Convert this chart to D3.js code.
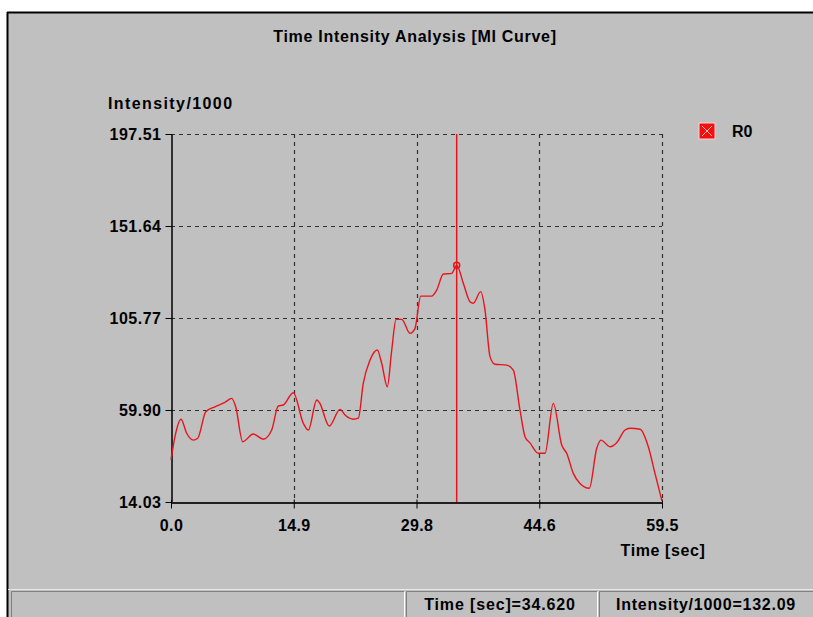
<!DOCTYPE html>
<html>
<head>
<meta charset="utf-8">
<script src="https://cdn.jsdelivr.net/npm/d3@7"></script>
<style>
  html, body { margin: 0; padding: 0; background: #ffffff; }
  svg { display: block; }
  text { font-family: "Liberation Sans", Arial, sans-serif; font-weight: bold; fill: #000; }
</style>
</head>
<body>
<svg id="chart" width="813" height="617"></svg>
<script>
// Sampled time-intensity curve for region R0
const timeSec = [0.00, 0.48, 1.21, 1.90, 2.70, 3.24, 4.21, 5.33, 6.54, 7.36, 7.84, 8.69, 9.97, 11.19,
  12.20, 13.00, 13.61, 14.82, 16.03, 16.64, 17.66, 18.00, 19.18, 20.48, 21.09, 22.09, 22.70, 23.30,
  24.12, 25.00, 25.53, 26.21, 26.75, 27.27, 27.96, 28.96, 29.57, 30.26, 31.59, 32.20, 33.00, 34.02,
  34.62, 35.42, 36.23, 36.63, 37.53, 38.05, 38.66, 39.26, 40.68, 41.48, 42.29, 42.90, 43.50, 44.51,
  45.32, 46.33, 47.35, 47.95, 48.75, 49.56, 50.69, 51.59, 52.11, 53.20, 54.01, 55.02, 55.62, 56.84,
  57.84, 58.65, 59.50];
const intensity = [35.0, 46.6, 55.3, 48.3, 44.9, 45.8, 59.0, 61.5, 63.7, 65.7, 61.5, 44.1, 47.9, 45.3,
  49.9, 61.9, 62.4, 68.5, 53.3, 49.9, 64.9, 63.5, 51.9, 60.2, 57.4, 55.3, 55.8, 73.2,
  84.8, 89.8, 83.2, 71.5, 89.8, 105.1, 105.1, 98.1, 100.6, 116.7, 116.7, 119.7, 127.7, 128.0,
  132.09, 123.1, 113.9, 113.1, 118.9, 109.8, 86.5, 82.7, 82.3, 79.8, 59.9, 46.6, 43.5, 38.3,
  38.3, 63.2, 42.4, 38.3, 28.3, 23.3, 20.9, 40.8, 44.9, 41.6, 43.6, 49.9, 50.8, 50.3,
  41.6, 28.3, 14.5];

// Axis ticks
const yTickValues = [14.03, 59.90, 105.77, 151.64, 197.51];
const xTickValues = [0, 14.875, 29.75, 44.625, 59.5];
const xTickLabels = ["0.0", "14.9", "29.8", "44.6", "59.5"];

// Cursor readout
const cursorTime = 34.62;
const cursorIntensity = 132.09;
const seriesName = "R0";

const svg = d3.select("#chart");
const W = 813, H = 617;
const plot = { left: 171, right: 662, top: 134, bottom: 502 };
const red = "#e8141c";
const FONT = "'Liberation Sans', Arial, sans-serif";

// Window panel with dark top/left edge
svg.append("rect").attr("x", 7).attr("y", 12).attr("width", W - 7).attr("height", H - 12).attr("fill", "#c0c0c0");
svg.append("line").attr("x1", 7).attr("x2", W).attr("y1", 12.5).attr("y2", 12.5).attr("stroke", "#000").attr("stroke-width", 2);
svg.append("line").attr("x1", 7.5).attr("x2", 7.5).attr("y1", 12).attr("y2", H).attr("stroke", "#000").attr("stroke-width", 2);

const x = d3.scaleLinear().domain([0, 59.5]).range([plot.left, plot.right]);
const y = d3.scaleLinear().domain([14.03, 197.51]).range([plot.bottom, plot.top]);

// Title and axis titles
svg.append("text").attr("x", 415).attr("y", 42).attr("text-anchor", "middle")
  .style("font-size", "16px").style("letter-spacing", "0.7px")
  .text("Time Intensity Analysis [MI Curve]");
svg.append("text").attr("x", 108).attr("y", 109)
  .style("font-size", "16px").style("letter-spacing", "1.4px")
  .text("Intensity/1000");
svg.append("text").attr("x", 663).attr("y", 556).attr("text-anchor", "middle")
  .style("font-size", "16px").style("letter-spacing", "0.6px")
  .text("Time [sec]");

// Dashed grid
const grid = svg.append("g").attr("stroke", "#303030").attr("stroke-dasharray", "4,4").attr("stroke-width", 1.2);
grid.selectAll("line.h").data(yTickValues.slice(1)).join("line")
  .attr("x1", plot.left).attr("x2", plot.right)
  .attr("y1", d => Math.round(y(d)) + 0.5).attr("y2", d => Math.round(y(d)) + 0.5);
grid.selectAll("line.v").data(xTickValues.slice(1)).join("line")
  .attr("y1", plot.top).attr("y2", plot.bottom)
  .attr("x1", d => Math.round(x(d)) + 0.5).attr("x2", d => Math.round(x(d)) + 0.5);

// Axes
const yAxis = d3.axisLeft(y).tickValues(yTickValues).tickFormat(d3.format(".2f")).tickSize(6).tickSizeOuter(0).tickPadding(4);
const gy = svg.append("g").attr("transform", `translate(${plot.left + 0.5},0)`).call(yAxis);
gy.select(".domain").attr("stroke", "#000").attr("stroke-width", 1.5);
gy.selectAll(".tick line").attr("stroke", "#000");
gy.selectAll(".tick text").style("font-size", "16px").style("letter-spacing", "0.5px")
  .style("font-family", FONT).style("font-weight", "bold").attr("fill", "#000");

const xAxis = d3.axisBottom(x).tickValues(xTickValues).tickFormat((d, i) => xTickLabels[i]).tickSize(6).tickSizeOuter(0).tickPadding(11);
const gx = svg.append("g").attr("transform", `translate(0,${plot.bottom + 0.5})`).call(xAxis);
gx.select(".domain").attr("stroke", "#202020").attr("stroke-width", 2);
gx.selectAll(".tick line").attr("stroke", "#000").attr("y1", -3);
gx.selectAll(".tick text").style("font-size", "16px").style("letter-spacing", "0.4px")
  .style("font-family", FONT).style("font-weight", "bold").attr("fill", "#000");

// Intensity curve
const pts = timeSec.map((t, i) => [t, intensity[i]]);
svg.append("path").datum(pts)
  .attr("fill", "none").attr("stroke", red).attr("stroke-width", 1.4).attr("stroke-linejoin", "round")
  .attr("d", d3.line().x(d => x(d[0])).y(d => y(d[1])).curve(d3.curveMonotoneX));

// Cursor line and marker
svg.append("line").attr("x1", x(cursorTime)).attr("x2", x(cursorTime))
  .attr("y1", plot.top).attr("y2", plot.bottom).attr("stroke", red).attr("stroke-width", 1.5);
svg.append("circle").attr("cx", x(cursorTime)).attr("cy", y(cursorIntensity)).attr("r", 3)
  .attr("fill", "none").attr("stroke", red).attr("stroke-width", 1.5);

// Legend
const lg = svg.append("g").attr("transform", "translate(699,123)");
lg.append("rect").attr("width", 16).attr("height", 16).attr("fill", "#f01010").attr("stroke", "#ffd0d0").attr("stroke-width", 1);
lg.append("path").attr("d", "M3,3L13,13M13,3L3,13").attr("stroke", "#ffb8b8").attr("stroke-width", 1);
svg.append("text").attr("x", 732).attr("y", 137).style("font-size", "16px").text(seriesName);

// Status bar
const sb = svg.append("g");
sb.append("line").attr("x1", 8).attr("x2", W).attr("y1", 589.5).attr("y2", 589.5).attr("stroke", "#e8e8e8");
const panels = [[11, 405], [406, 598], [599, W + 2]];
panels.forEach(([a, b]) => {
  sb.append("path").attr("d", `M${a + 0.5},${H}V${591.5}H${b - 0.5}`).attr("fill", "none").attr("stroke", "#808080");
  sb.append("path").attr("d", `M${b - 0.5},${591.5}V${H}`).attr("fill", "none").attr("stroke", "#ffffff");
});
sb.append("text").attr("x", 500).attr("y", 610).attr("text-anchor", "middle")
  .style("font-size", "16px").style("letter-spacing", "0.85px")
  .text(`Time [sec]=${cursorTime.toFixed(3)}`);
sb.append("text").attr("x", 706).attr("y", 610).attr("text-anchor", "middle")
  .style("font-size", "16px").style("letter-spacing", "0.75px")
  .text(`Intensity/1000=${cursorIntensity.toFixed(2)}`);
</script>
</body>
</html>
